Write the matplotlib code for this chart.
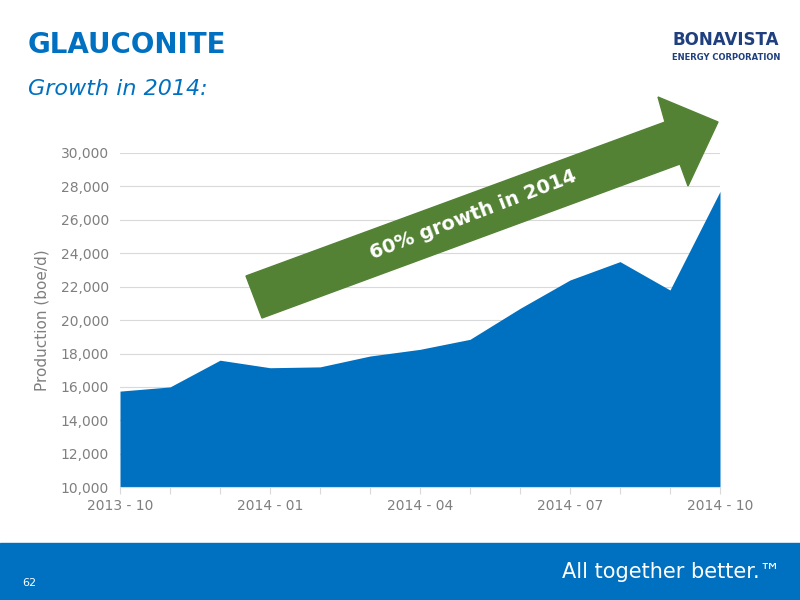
import matplotlib.pyplot as plt
from matplotlib.patches import Polygon, Rectangle

months = ['2013 - 10', '2013 - 11', '2013 - 12', '2014 - 01', '2014 - 02', '2014 - 03',
          '2014 - 04', '2014 - 05', '2014 - 06', '2014 - 07', '2014 - 08', '2014 - 09', '2014 - 10']
production = [15750, 16000, 17600, 17150, 17200, 17850, 18250, 18850,
              20700, 22400, 23500, 21800, 27700]
yticks = [10000, 12000, 14000, 16000, 18000, 20000, 22000, 24000, 26000, 28000, 30000]

blue = '#0070c0'
grey = '#7f7f7f'
fig = plt.figure(figsize=(8, 6), dpi=100)
ax = fig.add_axes([0.15, 0.188, 0.75, 0.557])
x = list(range(len(months)))
ax.fill_between(x, 10000, production, color=blue, lw=0)
ax.set_xlim(0, len(months) - 1)
ax.set_ylim(10000, 30000)
ax.set_yticks(yticks)
ax.set_yticklabels([f'{v:,}' for v in yticks], color=grey, fontsize=10)
ax.set_xticks(x)
ax.set_xticklabels([m if i % 3 == 0 else '' for i, m in enumerate(months)], color=grey, fontsize=10)
ax.tick_params(axis='y', length=0, pad=8)
ax.tick_params(axis='x', length=5, color='#d9d9d9')
ax.grid(axis='y', color='#d9d9d9', lw=0.8)
ax.set_axisbelow(True)
for s in ['top', 'right', 'left']:
    ax.spines[s].set_visible(False)
ax.spines['bottom'].set_color('#d9d9d9')
ax.set_ylabel('Production (boe/d)', color=grey, fontsize=11, labelpad=8)

# arrow in pixel coords (origin top-left)
pts = [(246, 276), (665, 122), (658, 97), (718, 122), (688, 186), (680, 164), (262, 318)]
fig.patches.append(Polygon([(px / 800, 1 - py / 600) for px, py in pts], closed=True,
                           transform=fig.transFigure, color='#548235', zorder=5))
fig.text(473 / 800, 1 - 215 / 600, '60% growth in 2014', color='white', fontsize=14,
         fontweight='bold', rotation=21, ha='center', va='center', zorder=6)

fig.text(28 / 800, 1 - 45 / 600, 'GLAUCONITE', color=blue, fontsize=20, fontweight='bold', va='center')
fig.text(28 / 800, 1 - 89 / 600, 'Growth in 2014:', color=blue, fontsize=16, style='italic', va='center')
fig.text(726 / 800, 1 - 40 / 600, 'BONAVISTA', color='#1f3f7f', fontsize=12, fontweight='bold', ha='center', va='center')
fig.text(726 / 800, 1 - 57 / 600, 'ENERGY CORPORATION', color='#1f3f7f', fontsize=6, fontweight='bold', ha='center', va='center')

fig.patches.append(Rectangle((0, 0), 1, 57 / 600, transform=fig.transFigure, color=blue, zorder=0))
fig.text(780 / 800, 1 - 572 / 600, 'All together better.\u2122', color='white', fontsize=15, ha='right', va='center')
fig.text(22 / 800, 1 - 583 / 600, '62', color='white', fontsize=8, va='center')

fig.savefig('out.png', dpi=100)
